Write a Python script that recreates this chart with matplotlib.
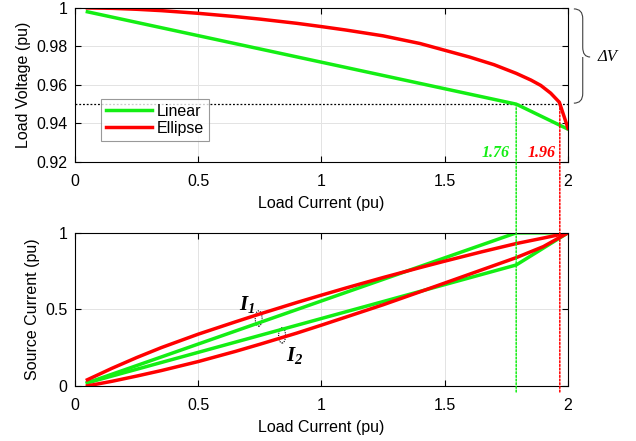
import numpy as np
import matplotlib.pyplot as plt
from matplotlib.patches import ConnectionPatch, Ellipse, PathPatch
from matplotlib.path import Path
import matplotlib.transforms as mtransforms

plt.rcParams['font.family'] = ['Liberation Sans', 'DejaVu Sans']
plt.rcParams['font.size'] = 11
plt.rcParams['mathtext.fontset'] = 'custom'
plt.rcParams['mathtext.bf'] = 'Liberation Serif:italic:bold'
plt.rcParams['mathtext.it'] = 'Liberation Serif:italic'
plt.rcParams['mathtext.rm'] = 'Liberation Serif'

# data
lin_x = [0.05, 1.79, 2.0]
lin_v = [0.998, 0.950, 0.937]

ell_x = [0.05, 0.15, 0.25, 0.35, 0.5, 0.65, 0.75, 0.9, 1.0, 1.1, 1.25, 1.4,
         1.5, 1.6, 1.7, 1.79, 1.85, 1.89, 1.93, 1.965, 2.0]
ell_v = [1.0, 0.9998, 0.9993, 0.9986, 0.9972, 0.9955, 0.9942, 0.9920, 0.9903,
         0.9885, 0.9855, 0.9815, 0.978, 0.9745, 0.9705, 0.966, 0.9625, 0.9597,
         0.9557, 0.9510, 0.9375]

lin_i1_x = [0.05, 1.79, 2.0]
lin_i1 = [0.02, 1.0, 1.0]
lin_i2_x = [0.05, 1.79, 2.0]
lin_i2 = [0.02, 0.79, 1.0]

ell_i_x = [0.05, 0.15, 0.25, 0.35, 0.5, 0.65, 0.75, 0.9, 1.0, 1.1, 1.25, 1.4,
           1.5, 1.65, 1.79, 1.9, 2.0]
ell_i1 = [0.04, 0.115, 0.185, 0.25, 0.338, 0.418, 0.47, 0.545, 0.593, 0.64,
          0.708, 0.773, 0.815, 0.876, 0.93, 0.966, 1.0]
ell_i2 = [0.0, 0.03, 0.064, 0.1, 0.159, 0.225, 0.272, 0.345, 0.397, 0.45,
          0.53, 0.615, 0.672, 0.758, 0.838, 0.91, 1.0]

v_lim = 0.95
x_lin_lim = 1.79
x_ell_lim = 1.967

green = '#14ee14'
red = '#ff0000'
lw = 2.5
fs = 11.5

fig = plt.figure(figsize=(6.36, 4.41), dpi=100)
ax1 = fig.add_axes([0.118, 0.633, 0.775, 0.349])
ax2 = fig.add_axes([0.118, 0.125, 0.775, 0.347])

for ax in (ax1, ax2):
    ax.grid(True, color='#e3e3e3', lw=0.7)
    ax.set_axisbelow(True)
    ax.tick_params(direction='in', top=True, right=True, length=4, labelsize=fs)
    ax.tick_params(axis='x', pad=9)
    ax.tick_params(axis='y', pad=5.5)
    for s in ax.spines.values():
        s.set_linewidth(0.8)
    ax.set_xlim(0, 2)
    ax.set_xticks([0, 0.5, 1, 1.5, 2])
    ax.set_xticklabels(['0', '0.5', '1', '1.5', '2'])
    ax.set_xlabel('Load Current (pu)', fontsize=fs, labelpad=4.5)

# top: voltage
ax1.plot(lin_x, lin_v, color=green, lw=lw, label='Linear')
ax1.plot(ell_x, ell_v, color=red, lw=lw, label='Ellipse')
ax1.axhline(v_lim, color='black', ls=(0, (1.5, 1.5)), lw=0.9, zorder=1)
ax1.set_ylim(0.92, 1.0)
ax1.set_yticks([0.92, 0.94, 0.96, 0.98, 1.0])
ax1.set_yticklabels(['0.92', '0.94', '0.96', '0.98', '1'])
ax1.set_ylabel('Load Voltage (pu)', fontsize=fs)
leg = ax1.legend(loc='upper left', bbox_to_anchor=(0.053, 0.409), borderaxespad=0,
                 fancybox=False, edgecolor='#808080', handlelength=2.9,
                 fontsize=fs, labelspacing=0.15, borderpad=0.3, handletextpad=0.3)
leg.get_frame().set_linewidth(0.8)

ax1.text(1.708, 0.9247, '1.76', color=green, ha='center', va='center',
         family='Liberation Serif', fontweight='bold', style='italic', fontsize=fs)
ax1.text(1.895, 0.9247, '1.96', color=red, ha='center', va='center',
         family='Liberation Serif', fontweight='bold', style='italic', fontsize=fs)

# brace for delta V
trans = mtransforms.blended_transform_factory(ax1.transAxes, ax1.transData)
x0, x1, x2 = 1.012, 1.030, 1.045
yt, yb, ym = 0.9995, 0.9505, 0.9745
verts = [(x0, yt), (x1, yt), (x1, yt - 0.005), (x1, ym + 0.005), (x1, ym), (x2, ym),
         (x1, ym), (x1, ym - 0.005), (x1, yb + 0.005), (x1, yb), (x0, yb)]
codes = [Path.MOVETO, Path.CURVE3, Path.CURVE3, Path.LINETO, Path.CURVE3, Path.CURVE3,
         Path.MOVETO, Path.CURVE3, Path.LINETO, Path.CURVE3, Path.CURVE3]
ax1.add_patch(PathPatch(Path(verts, codes), transform=trans, fill=False,
                        lw=0.8, color='#404040', clip_on=False))
ax1.text(1.081, ym, 'ΔV', transform=trans, ha='center', va='center',
         fontsize=12, style='italic', family='Liberation Serif')

# bottom: source current
ax2.plot(lin_i1_x, lin_i1, color=green, lw=lw)
ax2.plot(lin_i2_x, lin_i2, color=green, lw=lw)
ax2.plot(ell_i_x, ell_i1, color=red, lw=lw)
ax2.plot(ell_i_x, ell_i2, color=red, lw=lw)
ax2.set_ylim(0, 1)
ax2.set_yticks([0, 0.5, 1])
ax2.set_yticklabels(['0', '0.5', '1'])
ax2.set_ylabel('Source Current (pu)', fontsize=fs)

ax2.add_patch(Ellipse((0.745, 0.44), 0.028, 0.1, fill=False, ls=(0, (1, 1)), lw=0.8,
                      color='black'))
ax2.add_patch(Ellipse((0.84, 0.33), 0.028, 0.1, fill=False, ls=(0, (1, 1)), lw=0.8,
                      color='black'))
ax2.text(0.70, 0.53, r'$\mathbf{I_1}$', ha='center', va='center', fontsize=15)
ax2.text(0.89, 0.20, r'$\mathbf{I_2}$', ha='center', va='center', fontsize=15)

# limit lines through both axes
for xv, c in ((x_lin_lim, green), (x_ell_lim, red)):
    con = ConnectionPatch(xyA=(xv, v_lim), coordsA=ax1.transData,
                          xyB=(xv, -0.04), coordsB=ax2.transData,
                          color=c, ls=(0, (1.2, 1.2)), lw=1.1)
    fig.add_artist(con)

fig.savefig('out.png', dpi=100)
